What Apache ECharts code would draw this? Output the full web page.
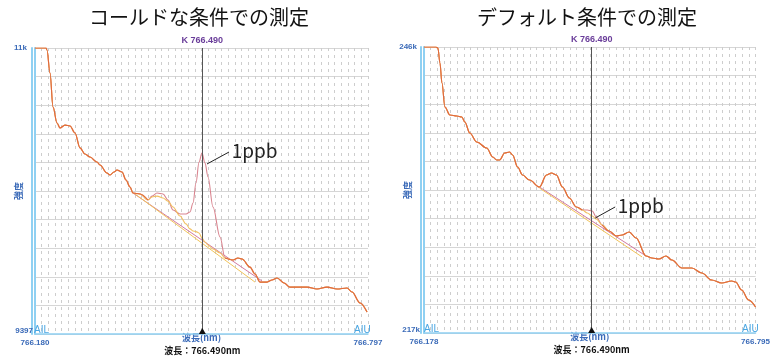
<!DOCTYPE html>
<html><head><meta charset="utf-8">
<script src="https://cdn.jsdelivr.net/npm/echarts@6/dist/echarts.min.js"></script>
<style>html,body{margin:0;padding:0;background:#fff}#c{width:773px;height:360px}</style>
</head><body><div id="c"></div>
<script>
// ---------- data ----------
const titles = ['コールドな条件での測定', 'デフォルト条件での測定'];
const cursorWl = 766.490;

// left panel (cold conditions)
const L_xRange = [766.180, 766.797];
const L_yRange = [9397, 11000];
const L_yLabels = ['9397', '11k'];
const L_wl = [766.1800,766.2004,766.2022,766.2078,766.2134,766.2208,766.2263,766.2356,766.2449,766.2541,
  766.2634,766.2726,766.2819,766.2949,766.3004,766.3134,766.3190,766.3264,766.3319,766.3412,
  766.3486,766.3560,766.3616,766.3746,766.3894,766.3968,766.4061,766.4172,766.4264,766.4357,
  766.4487,766.4598,766.4672,766.4728,766.4783,766.4839,766.4894,766.4950,766.5006,766.5098,
  766.5228,766.5321,766.5469,766.5561,766.5636,766.5784,766.5876,766.5969,766.6099,766.6191,
  766.6284,766.6414,766.6525,766.6710,766.6840,766.7025,766.7210,766.7396,766.7581,766.7674,
  766.7822,766.7952];
const L_sample = [11000,11000,10989,10860,10669,10580,10552,10568,10563,10524,
  10440,10406,10389,10361,10344,10299,10288,10305,10316,10305,
  10260,10221,10187,10182,10148,10170,10187,10182,10148,10092,
  10070,10070,10081,10131,10243,10361,10411,10355,10277,10109,
  9941,9823,9812,9823,9817,9772,9733,9688,9688,9700,
  9711,9683,9660,9660,9660,9649,9660,9649,9655,9632,
  9571,9520];
const L_blank = [11000,11000,10989,10860,10669,10580,10552,10568,10563,10524,
  10440,10406,10389,10361,10344,10299,10288,10305,10316,10305,
  10260,10221,10187,10182,10148,10165,10170,10159,10142,10109,
  10058,10014,9986,9974,9971,9963,9935,9913,9896,9873,
  9851,9823,9812,9823,9817,9772,9733,9688,9688,9700,
  9711,9683,9660,9660,9660,9649,9660,9649,9655,9632,
  9571,9520];
const L_sampleBase = [[766.3616, 10187], [766.6006, 9694]];
const L_blankBase = [[766.3653, 10182], [766.5876, 9688]];
const L_note = [[766.4987, 10350], [766.5395, 10417]];

// right panel (default conditions)
const R_xRange = [766.178, 766.795];
const R_yRange = [217000, 246000];
const R_yLabels = ['217k', '246k'];
const R_wl = [766.1780,766.2002,766.2039,766.2077,766.2114,766.2169,766.2262,766.2391,766.2484,766.2540,
  766.2632,766.2762,766.2947,766.3059,766.3133,766.3188,766.3281,766.3373,766.3429,766.3522,
  766.3614,766.3744,766.3929,766.4059,766.4152,766.4244,766.4356,766.4485,766.4615,766.4726,
  766.4819,766.4911,766.4986,766.5097,766.5226,766.5356,766.5467,766.5597,766.5727,766.5912,
  766.6023,766.6153,766.6283,766.6394,766.6579,766.6764,766.6950,766.7135,766.7320,766.7506,
  766.7580,766.7691,766.7821,766.7950];
const R_blank = [246000,246000,245900,244380,242350,239920,239100,239000,238900,238400,
  237280,236370,235760,234850,234540,234540,235250,235350,235050,233830,
  233020,232510,231800,233020,233220,233020,231800,230690,229780,229470,
  229170,228860,228560,227950,227340,226840,226940,227240,226630,224810,
  224600,224500,224810,224400,223590,223590,223080,222370,222070,222270,
  222170,221360,220350,219640];
const R_sample = [246000,246000,245900,244380,242350,239920,239100,239000,238900,238400,
  237280,236370,235760,234850,234540,234540,235250,235350,235050,233830,
  233020,232510,231800,233020,233220,233020,231800,230690,229780,229470,
  229470,229370,228760,227950,227340,226840,226940,227240,226630,224810,
  224600,224500,224810,224400,223590,223590,223080,222370,222070,222270,
  222170,221360,220350,219640];
const R_sampleBase = [[766.3929, 231800], [766.5912, 224810]];
const R_blankBase = [[766.3929, 231700], [766.5838, 224710]];
const R_note = [[766.4967, 228660], [766.5338, 229780]];

// ---------- styling ----------
const C = {
  common: '#e0683c', sample: '#d9848f', blank: '#f2c060',
  baseS: '#d27aa0', baseB: '#f2c45a',
  label: '#3a6ab8', light: '#8fd0f2', aiu: '#4aa6e2', cursor: '#555555', k: '#6a3d9a'
};
const grids = [
  {left: 35, top: 48, width: 333, height: 286},
  {left: 424, top: 47, width: 333, height: 286}
];
const panels = [
  {xr: L_xRange, yr: L_yRange, yl: L_yLabels, wl: L_wl, s: L_sample, b: L_blank, sb: L_sampleBase, bb: L_blankBase, note: L_note, pad: [6, 2]},
  {xr: R_xRange, yr: R_yRange, yl: R_yLabels, wl: R_wl, s: R_sample, b: R_blank, sb: R_sampleBase, bb: R_blankBase, note: R_note, pad: [3, 4]}
];

const xAxis = [], yAxis = [], series = [];
panels.forEach((p, i) => {
  xAxis.push({
    type: 'value', gridIndex: i, min: p.xr[0], max: p.xr[1],
    axisLine: {show: true, onZero: false, lineStyle: {color: C.light, width: 1.5}},
    axisTick: {show: false}, splitLine: {show: false},
    axisLabel: {customValues: p.xr, formatter: v => v.toFixed(3), color: C.label, fontSize: 8, fontWeight: 'bold', margin: 5, fontFamily: 'Liberation Sans'},
    name: '波長(nm)', nameLocation: 'middle', nameGap: -1, nameMoveOverlap: false,
    nameTextStyle: {color: C.label, fontSize: 9, fontWeight: 'bold', fontFamily: 'Noto Sans CJK JP'}
  });
  xAxis.push({
    type: 'value', gridIndex: i, min: 0, max: 50, interval: 1,
    axisLine: {show: false}, axisTick: {show: false}, axisLabel: {show: false},
    splitLine: {show: true, lineStyle: {color: '#cdcdcd', width: 1, type: [3, 4]}}
  });
  yAxis.push({
    type: 'value', gridIndex: i, min: p.yr[0], max: p.yr[1],
    axisLine: {show: true, onZero: false, lineStyle: {color: '#7ab8e8', width: 1}},
    axisTick: {show: false}, splitLine: {show: false},
    axisLabel: {
      customValues: p.yr, margin: p.pad[1],
      formatter: v => v === p.yr[1] ? '{t|' + p.yl[1] + '}' : '{b|' + p.yl[0] + '}',
      rich: {
        t: {color: C.label, fontSize: 8, fontWeight: 'bold', fontFamily: 'Liberation Sans', padding: [0, p.pad[0], 0, 0]},
        b: {color: C.label, fontSize: 8, fontWeight: 'bold', fontFamily: 'Liberation Sans', padding: [0, 0, 6, 0]}
      }
    },
    name: '強度', nameLocation: 'middle', nameRotate: 90, nameGap: 12, nameMoveOverlap: false,
    nameTextStyle: {color: C.label, fontSize: 9, fontWeight: 'bold', fontFamily: 'Noto Sans CJK JP'}
  });
  yAxis.push({
    type: 'value', gridIndex: i, min: 0, max: 10, interval: 1, position: 'right', offset: 5,
    axisLine: {show: true, lineStyle: {color: C.light, width: 2}}, axisTick: {show: false}, axisLabel: {show: false},
    splitLine: {show: true, lineStyle: {color: '#d6d6d6', width: 1}}
  });
  yAxis.push({
    type: 'value', gridIndex: i, min: 0, max: 10, position: 'left', offset: 3,
    axisLine: {show: true, lineStyle: {color: C.light, width: 2}}, axisTick: {show: false}, axisLabel: {show: false},
    splitLine: {show: false}
  });
  const xi = i * 2, yi = i * 3;
  const base = {type: 'line', xAxisIndex: xi, yAxisIndex: yi, symbol: 'none', silent: true, animation: false};
  series.push(Object.assign({}, base, {data: p.sb, lineStyle: {color: C.baseS, width: 1}, z: 2}));
  series.push(Object.assign({}, base, {data: p.bb, lineStyle: {color: C.baseB, width: 1}, z: 2}));
  series.push(Object.assign({}, base, {
    data: p.wl.map((w, k) => [w, p.s[k]]), smooth: 0.35, smoothMonotone: 'x',
    lineStyle: {color: C.sample, width: 1.1}, z: 3,
    markLine: {
      silent: true, symbol: ['none', 'none'], animation: false,
      lineStyle: {color: C.cursor, width: 1, type: 'solid'},
      data: [
        {xAxis: cursorWl, label: {show: true, position: 'end', formatter: 'K ' + cursorWl.toFixed(3), color: C.k, fontSize: 9, fontWeight: 'bold', fontFamily: 'Liberation Sans', distance: 3}},
        {xAxis: cursorWl, label: {show: true, position: 'start', formatter: '波長：' + cursorWl.toFixed(3) + 'nm', color: '#111', fontSize: 9, fontWeight: 'bold', fontFamily: 'Noto Sans CJK JP', distance: 12}},
        [{coord: p.note[0], lineStyle: {color: '#222', width: 1}}, {coord: p.note[1], label: {show: true, position: 'end', formatter: '1ppb', color: '#222', fontSize: 19, fontFamily: 'Noto Sans CJK JP', distance: 3}}]
      ]
    },
    markPoint: {
      silent: true, animation: false,
      data: [{coord: [cursorWl, p.yr[0]], symbol: 'triangle', symbolSize: [7, 6], symbolOffset: [0, -3], itemStyle: {color: '#111'}, label: {show: false}}]
    }
  }));
  series.push(Object.assign({}, base, {data: p.wl.map((w, k) => [w, p.b[k]]), smooth: 0.35, smoothMonotone: 'x', lineStyle: {color: C.blank, width: 1.1}, z: 4}));
  series.push(Object.assign({}, base, {data: p.wl.map((w, k) => [w, p.s[k] === p.b[k] ? p.s[k] : null]), smooth: 0.35, smoothMonotone: 'x', lineStyle: {color: C.common, width: 1.1}, z: 5}));
});

const chart = echarts.init(document.getElementById('c'), null, {renderer: 'canvas'});
chart.setOption({
  backgroundColor: '#fff',
  animation: false,
  title: [
    {text: titles[0], left: 194, top: 2, textAlign: 'center', textStyle: {fontSize: 20, fontWeight: 'normal', color: '#111', fontFamily: 'Noto Sans CJK JP'}},
    {text: titles[1], left: 582, top: 2, textAlign: 'center', textStyle: {fontSize: 20, fontWeight: 'normal', color: '#111', fontFamily: 'Noto Sans CJK JP'}}
  ],
  grid: grids,
  xAxis: xAxis,
  yAxis: yAxis,
  series: series,
  graphic: [
    {type: 'text', left: 34, top: 325, z: 100, style: {text: 'AIL', fill: C.aiu, font: '10px "Liberation Sans"'}},
    {type: 'text', left: 354, top: 325, z: 100, style: {text: 'AIU', fill: C.aiu, font: '10px "Liberation Sans"'}},
    {type: 'text', left: 424, top: 324, z: 100, style: {text: 'AIL', fill: C.aiu, font: '10px "Liberation Sans"'}},
    {type: 'text', left: 742, top: 324, z: 100, style: {text: 'AIU', fill: C.aiu, font: '10px "Liberation Sans"'}}
  ]
});
</script></body></html>
